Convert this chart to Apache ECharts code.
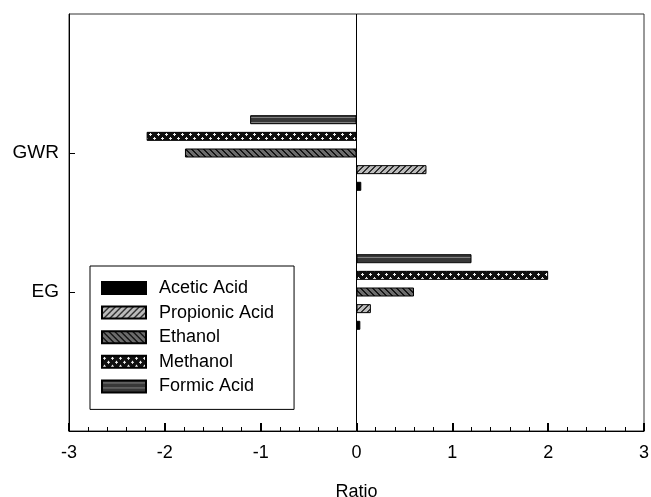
<!DOCTYPE html>
<html>
<head>
<meta charset="utf-8">
<script src="https://cdn.jsdelivr.net/npm/echarts@6/dist/echarts.min.js"></script>
<style>
html,body{margin:0;padding:0;background:#fff;}
#chart{width:651px;height:497px;}
</style>
</head>
<body>
<div id="chart"></div>
<script>
// ---- data ----
const categories = ['EG', 'GWR'];
const seriesNames = ['Acetic Acid', 'Propionic Acid', 'Ethanol', 'Methanol', 'Formic Acid'];
const aceticAcid    = [0.04, 0.05];
const propionicAcid = [0.15, 0.73];
const ethanol       = [0.60, -1.79];
const methanol      = [2.00, -2.19];
const formicAcid    = [1.20, -1.11];
const xTicks = [-3, -2, -1, 0, 1, 2, 3];

// ---- patterns ----
function makeTile(w, h, fn) {
  const c = document.createElement('canvas');
  c.width = w; c.height = h;
  const ctx = c.getContext('2d');
  const img = ctx.createImageData(w, h);
  for (let y = 0; y < h; y++) for (let x = 0; x < w; x++) {
    const v = fn(x, y);
    const i = (y * w + x) * 4;
    img.data[i] = v; img.data[i+1] = v; img.data[i+2] = v; img.data[i+3] = 255;
  }
  ctx.putImageData(img, 0, 0);
  return c;
}
const solidBlack = '#000000';
const propPat = makeTile(6, 6, (x, y) => ((x + y) % 6) < 2 ? 0x30 : 0xbc);
const ethPat = makeTile(6, 6, (x, y) => (((x - y) % 6) + 6) % 6 < 2 ? 0x15 : 0x6c);
const methPat = makeTile(8, 8, (x, y) => {
  const d1 = Math.abs(x - 2) + Math.abs(y - 2);
  const d2 = Math.abs(x - 6) + Math.abs(y - 6);
  return (d1 <= 1 || d2 <= 1) ? 0xf0 : 0x10;
});
const formPat = makeTile(5, 5, (x, y) => y === 2 ? 0x80 : 0x38);

const fills = [
  solidBlack,
  { image: propPat, repeat: 'repeat' },
  { image: ethPat, repeat: 'repeat' },
  { image: methPat, repeat: 'repeat' },
  { image: formPat, repeat: 'repeat' }
];
const values = [aceticAcid, propionicAcid, ethanol, methanol, formicAcid];

const axisCats = [''].concat(categories, ['']);
const FONT = 'Liberation Sans, Arial, sans-serif';

// series listed from top bar to bottom bar
const order = [4, 3, 2, 1, 0];
const series = order.map((i, k) => {
  const s = {
    name: seriesNames[i],
    type: 'bar',
    barWidth: 9,
    barGap: '85%',
    data: ['-'].concat(values[i], ['-']),
    itemStyle: { color: fills[i], borderColor: '#000', borderWidth: 1 },
    emphasis: { disabled: true },
    animation: false
  };
  if (k === 0) {
    s.markLine = {
      silent: true,
      symbol: ['none', 'none'],
      label: { show: false },
      lineStyle: { color: '#000', type: 'solid', width: 1 },
      data: [{ xAxis: 0 }],
      animation: false
    };
  }
  return s;
});

const chart = echarts.init(document.getElementById('chart'), null, { renderer: 'canvas' });
chart.setOption({
  backgroundColor: '#fff',
  animation: false,
  textStyle: { fontFamily: FONT },
  grid: {
    left: 69, right: 7, top: 14, bottom: 66,
    containLabel: false, outerBoundsMode: 'none',
    show: true, borderColor: '#333', borderWidth: 1, backgroundColor: 'transparent'
  },
  legend: {
    orient: 'vertical',
    left: 90,
    top: 266,
    data: seriesNames.map(n => ({ name: n, icon: 'rect' })),
    itemWidth: 44,
    itemHeight: 12,
    itemGap: 6.6,
    padding: [13, 20, 14, 11],
    borderColor: '#000',
    borderWidth: 1,
    backgroundColor: '#fff',
    selectedMode: false,
    textStyle: { fontSize: 18, color: '#000', fontFamily: FONT, padding: [0, 0, 0, 8] }
  },
  xAxis: {
    type: 'value',
    min: xTicks[0],
    max: xTicks[xTicks.length - 1],
    interval: 1,
    name: 'Ratio',
    nameLocation: 'middle',
    nameGap: 52,
    nameTextStyle: { fontSize: 18, color: '#000', fontFamily: FONT },
    axisLine: { show: true, onZero: false, lineStyle: { color: '#000', width: 1 } },
    axisTick: { show: true, inside: true, length: 8, lineStyle: { color: '#000', width: 2 } },
    minorTick: { show: true, splitNumber: 5, length: 4, lineStyle: { color: '#000', width: 1 } },
    splitLine: { show: false },
    axisLabel: { fontSize: 18, color: '#000', margin: 13.5, fontFamily: FONT }
  },
  yAxis: {
    type: 'category',
    data: axisCats,
    boundaryGap: false,
    axisLine: { show: true, onZero: false, lineStyle: { color: '#000', width: 1 } },
    axisTick: { show: true, inside: true, length: 6, interval: (idx) => idx === 1 || idx === 2, lineStyle: { color: '#000' } },
    axisLabel: { fontSize: 19, color: '#000', margin: 10, fontFamily: FONT, interval: 0 },
    splitLine: { show: false }
  },
  series: series
});
</script>
</body>
</html>
